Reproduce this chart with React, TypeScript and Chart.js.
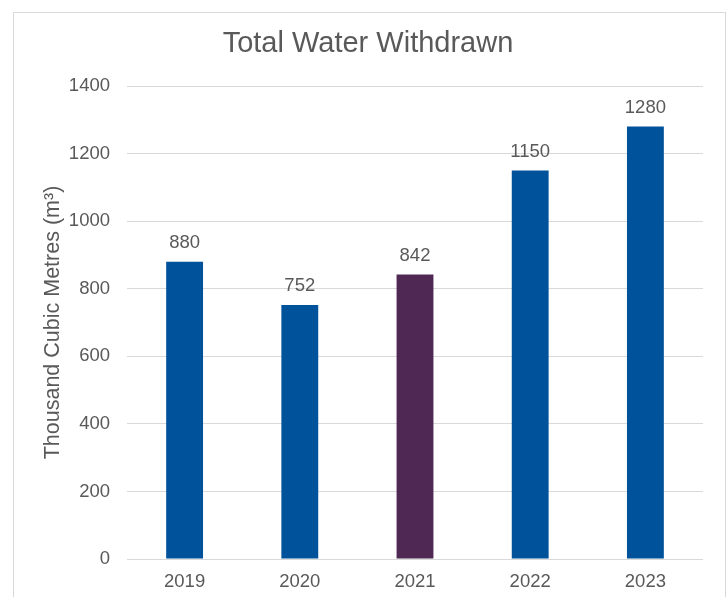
import React, { useEffect, useRef } from "react";
import { Chart, registerables } from "chart.js";

Chart.register(...registerables);

const TITLE = "Total Water Withdrawn";
const Y_TITLE = "Thousand Cubic Metres (m³)";
const years = ["2019", "2020", "2021", "2022", "2023"];
const withdrawn = [880, 752, 842, 1150, 1280];
const barColors = ["#00529B", "#00529B", "#502854", "#00529B", "#00529B"];

const FONT = "'Liberation Sans', Arial, sans-serif";
const TEXT = "#595959";

const framePlugin = {
  id: "frame",
  beforeDraw(chart: any) {
    const ctx = chart.ctx;
    ctx.save();
    ctx.fillStyle = "#ffffff";
    ctx.fillRect(0, 0, chart.width, chart.height);
    ctx.strokeStyle = "#d9d9d9";
    ctx.lineWidth = 1;
    ctx.strokeRect(13.5, 12.5, 712, 700);
    ctx.fillStyle = TEXT;
    ctx.font = `29px ${FONT}`;
    ctx.textAlign = "center";
    ctx.textBaseline = "alphabetic";
    ctx.fillText(TITLE, 368, 52);
    ctx.restore();
  },
};

const labelPlugin = {
  id: "barLabels",
  afterDatasetsDraw(chart: any) {
    const ctx = chart.ctx;
    const meta = chart.getDatasetMeta(0);
    ctx.save();
    ctx.fillStyle = TEXT;
    ctx.font = `18.5px ${FONT}`;
    ctx.textAlign = "center";
    ctx.textBaseline = "alphabetic";
    meta.data.forEach((bar: any, i: number) => {
      ctx.fillText(String(withdrawn[i]), bar.x, bar.y - 13.5);
    });
    ctx.restore();
  },
};

export default function App() {
  const ref = useRef<HTMLCanvasElement>(null);
  useEffect(() => {
    document.body.style.margin = "0";
    const chart = new Chart(ref.current!, {
      type: "bar",
      data: {
        labels: years,
        datasets: [
          {
            data: withdrawn,
            backgroundColor: barColors,
            barPercentage: 0.32,
            categoryPercentage: 1,
          },
        ],
      },
      options: {
        responsive: false,
        animation: false,
        layout: { padding: { left: 0, right: 25, top: 86, bottom: 0 } },
        plugins: {
          legend: { display: false },
          title: { display: false },
          tooltip: { enabled: false },
        },
        scales: {
          x: {
            grid: { display: false, drawTicks: false },
            border: { display: false },
            ticks: { color: TEXT, font: { family: FONT, size: 18.5 }, padding: 12 },
            afterFit: (s: any) => {
              s.height = 38;
            },
          },
          y: {
            min: 0,
            max: 1400,
            grid: { color: "#d9d9d9", lineWidth: 1, drawTicks: false },
            border: { display: false },
            ticks: {
              stepSize: 200,
              color: TEXT,
              font: { family: FONT, size: 18.5 },
              padding: 17,
              callback: (v: any) => String(v),
            },
            title: {
              display: true,
              text: Y_TITLE,
              color: TEXT,
              font: { family: FONT, size: 21.5 },
              padding: { top: 40, bottom: 0 },
            },
            afterFit: (s: any) => {
              s.width = 127;
            },
          },
        },
      },
      plugins: [framePlugin, labelPlugin],
    });
    return () => chart.destroy();
  }, []);
  return (
    <div style={{ width: 728, height: 597 }}>
      <canvas ref={ref} width={728} height={597} />
    </div>
  );
}
